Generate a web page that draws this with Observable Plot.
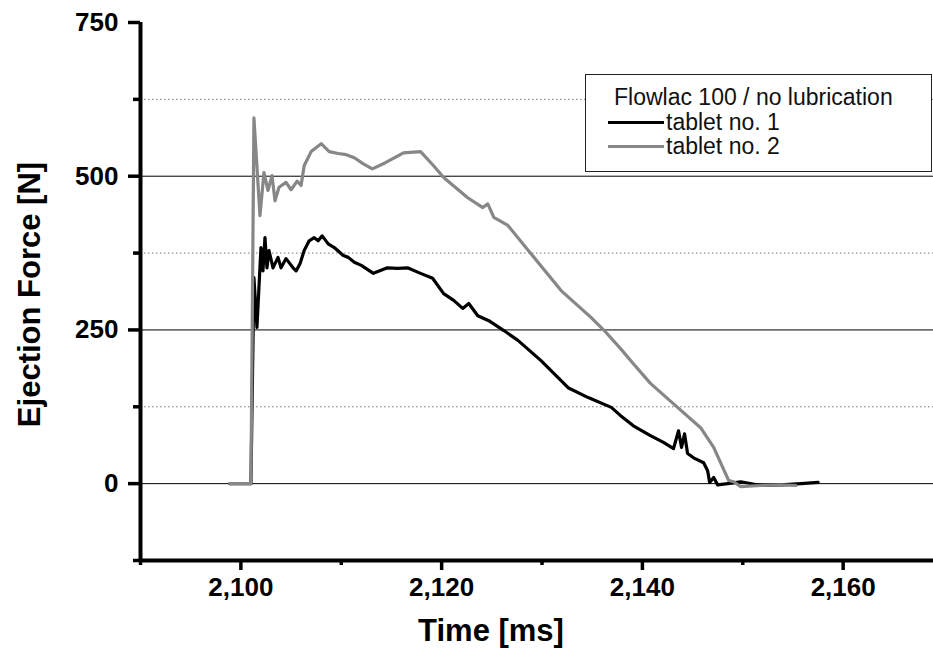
<!DOCTYPE html>
<html>
<head>
<meta charset="utf-8">
<script src="https://cdn.jsdelivr.net/npm/d3@7"></script>
<script src="https://cdn.jsdelivr.net/npm/@observablehq/plot@0.6"></script>
<style>
  html, body { margin: 0; padding: 0; background: #fff; }
  #wrap { position: relative; width: 933px; height: 651px; font-family: "Liberation Sans", Arial, sans-serif; }
  #legend { position: absolute; left: 585px; top: 74px; width: 345px; height: 96px; border: 1.5px solid #222; background: #fff; font-size: 23px; color: #111; }
  #legend .row { position: absolute; white-space: nowrap; line-height: 1; }
  #legend .sw { display: inline-block; width: 56px; height: 0; border-top: 3px solid; vertical-align: middle; margin-right: 2px; position: relative; top: -1px; }
</style>
</head>
<body>
<div id="wrap"></div>
<script>
// ---- data ----
const time1 = [2098.9, 2101.0, 2101.3, 2101.6, 2102.0, 2102.2, 2102.4, 2102.6, 2102.8, 2103.2, 2103.7, 2104.0, 2104.5, 2105.2, 2105.5, 2105.9, 2106.3, 2106.8, 2107.3, 2107.7, 2108.1, 2108.7, 2109.3, 2110.2, 2110.7, 2111.3, 2112.0, 2113.2, 2114.6, 2115.6, 2116.6, 2117.9, 2119.1, 2120.2, 2121.2, 2122.1, 2122.7, 2123.6, 2124.7, 2126.2, 2127.6, 2129.9, 2132.6, 2134.6, 2136.9, 2137.8, 2139.1, 2140.8, 2142.1, 2143.1, 2143.6, 2143.9, 2144.2, 2144.5, 2145.1, 2146.1, 2146.5, 2146.7, 2147.1, 2147.5, 2148.5, 2149.8, 2151.8, 2153.8, 2155.8, 2157.5];
const force1 = [0, 0, 335, 254, 384, 346, 400, 351, 379, 351, 368, 351, 366, 351, 346, 358, 379, 395, 400, 395, 403, 390, 384, 371, 368, 360, 355, 342, 351, 350, 351, 342, 334, 309, 298, 285, 293, 273, 265, 249, 233, 200, 156, 140, 124, 111, 94, 78, 67, 57, 86, 59, 81, 49, 42, 34, 21, 2, 10, -2, 0, 3, -3, -2, 0, 2];
const time2 = [2098.9, 2101.0, 2101.3, 2101.9, 2102.3, 2102.7, 2103.1, 2103.4, 2103.8, 2104.5, 2105.0, 2105.6, 2106.0, 2106.3, 2107.0, 2108.0, 2108.8, 2109.7, 2110.5, 2111.3, 2112.2, 2113.1, 2114.4, 2116.2, 2117.9, 2119.2, 2120.2, 2122.6, 2124.1, 2124.6, 2125.2, 2126.6, 2128.9, 2131.9, 2134.9, 2136.2, 2137.8, 2139.1, 2140.8, 2143.5, 2145.8, 2147.1, 2148.6, 2149.1, 2149.8, 2151.8, 2153.8, 2155.3];
const force2 = [0, 0, 595, 436, 506, 477, 501, 460, 482, 490, 478, 492, 485, 517, 540, 553, 540, 537, 535, 530, 520, 512, 522, 538, 540, 517, 498, 465, 449, 455, 433, 420, 374, 314, 270, 249, 220, 195, 163, 124, 91, 59, 5, 3, -5, -3, -2, -3];
const seriesNames = ["tablet no. 1", "tablet no. 2"];
const legendTitle = "Flowlac 100 / no lubrication";
const xMajorTicks = [2100, 2120, 2140, 2160];
const xMinorTicks = [2090, 2110, 2130, 2150];
const yMajorTicks = [0, 250, 500, 750];
const yMinorTicks = [-125, 125, 375, 625];
const gridSolid = [0, 250, 500];
const gridDotted = [125, 375, 625];
const xLabel = "Time [ms]";
const yLabel = "Ejection Force [N]";

const s1 = time1.map((t, i) => ({t, f: force1[i]}));
const s2 = time2.map((t, i) => ({t, f: force2[i]}));
const font = "Liberation Sans, Arial, sans-serif";

const chart = Plot.plot({
  width: 933, height: 651,
  marginLeft: 140, marginRight: 0, marginTop: 22, marginBottom: 91,
  x: {domain: [2090, 2169]},
  y: {domain: [-125, 750]},
  style: {fontFamily: font, background: "#fff", overflow: "visible"},
  marks: [
    Plot.ruleY(gridSolid, {stroke: "#000", strokeWidth: 1}),
    Plot.ruleY(gridDotted, {stroke: "#777", strokeWidth: 1, strokeDasharray: "1.5,2.5"}),
    Plot.line(s1, {x: "t", y: "f", stroke: "#000", strokeWidth: 3.2, curve: "linear"}),
    Plot.line(s2, {x: "t", y: "f", stroke: "#878787", strokeWidth: 3.2, curve: "linear"}),
    Plot.axisX({ticks: xMajorTicks, tickSize: 10, tickPadding: 7, strokeWidth: 3.5, tickFormat: d3.format(","), fontSize: 26, fontWeight: "bold", fill: "#000", label: null}),
    Plot.axisX({ticks: xMinorTicks, tickSize: 5, strokeWidth: 3.5, tickFormat: () => "", label: null}),
    Plot.axisY({ticks: yMajorTicks, tickSize: 12, tickPadding: 10, strokeWidth: 3.5, tickFormat: d3.format(","), fontSize: 26, fontWeight: "bold", fill: "#000", label: null}),
    Plot.axisY({ticks: yMinorTicks, tickSize: 7, strokeWidth: 3.5, tickFormat: () => "", label: null}),
    Plot.ruleX([2090], {stroke: "#000", strokeWidth: 4}),
    Plot.ruleY([-125], {stroke: "#000", strokeWidth: 4}),
    Plot.text([xLabel], {frameAnchor: "bottom", textAnchor: "middle", dx: -46, dy: 80, fontSize: 31, fontWeight: "bold", fill: "#000"}),
    Plot.text([yLabel], {frameAnchor: "left", textAnchor: "middle", rotate: -90, dx: -110, dy: 3, fontSize: 31, fontWeight: "bold", fill: "#000"})
  ]
});

const wrap = document.getElementById("wrap");
wrap.appendChild(chart);

const legend = document.createElement("div");
legend.id = "legend";
const colors = ["#000", "#878787"];
const title = document.createElement("div");
title.className = "row";
title.style.left = "28px"; title.style.top = "11px";
title.textContent = legendTitle;
legend.appendChild(title);
seriesNames.forEach((name, i) => {
  const row = document.createElement("div");
  row.className = "row";
  row.style.left = "22px"; row.style.top = (36 + i * 24) + "px";
  const sw = document.createElement("span");
  sw.className = "sw"; sw.style.borderColor = colors[i];
  row.appendChild(sw);
  row.appendChild(document.createTextNode(name));
  legend.appendChild(row);
});
wrap.appendChild(legend);
</script>
</body>
</html>
